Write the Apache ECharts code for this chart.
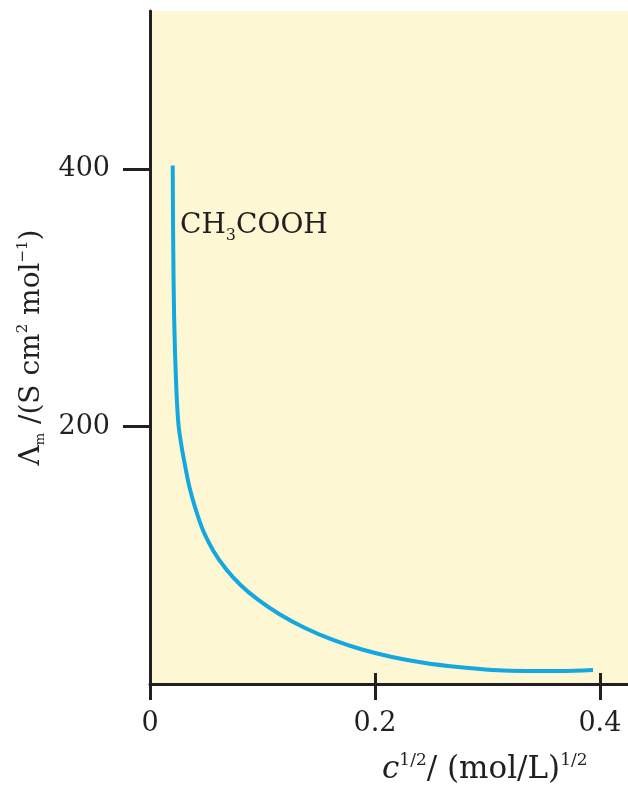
<!DOCTYPE html>
<html>
<head>
<meta charset="utf-8">
<script src="https://cdn.jsdelivr.net/npm/echarts@6/dist/echarts.min.js"></script>
<style>
  html, body { margin: 0; padding: 0; background: #ffffff; }
  #chart { width: 628px; height: 789px; }
</style>
</head>
<body>
<div id="chart"></div>
<script>
// sqrt(c) values and molar conductivity for CH3COOH
const sqrtConc = [0.0202, 0.0206, 0.0215, 0.0231, 0.0252, 0.028, 0.0311, 0.0351, 0.040, 0.0471,
  0.056, 0.0667, 0.080, 0.096, 0.1156, 0.1378, 0.1627, 0.1885, 0.2152, 0.2445,
  0.2739, 0.3041, 0.3352, 0.3645, 0.3939];
const molarCond = [403, 345, 283, 236.5, 202.7, 185, 170, 153, 137.5, 119.5,
  104, 90.3, 77.3, 65.5, 54, 43.5, 34.2, 26.8, 21, 16.3,
  13.2, 10.9, 10.1, 10.1, 10.9];
const xTicks = [0, 0.2, 0.4];
const xInnerTicks = [0.2, 0.4];
const yTicks = [200, 400];
const seriesName = 'CH3COOH';

const serif = 'DejaVu Serif';
const ink = '#231f20';
const gridTop = 11;
const gridBottom = 105;
const gridHeight = 789 - gridTop - gridBottom;

const chart = echarts.init(document.getElementById('chart'));

const axisX = {
  type: 'value',
  min: 0,
  max: 0.425,
  splitLine: { show: false }
};

const option = {
  backgroundColor: '#ffffff',
  animation: false,
  grid: {
    left: 150, right: 0, top: gridTop, bottom: gridBottom,
    show: true,
    backgroundColor: '#fdf7d3',
    borderWidth: 0
  },
  xAxis: [
    Object.assign({}, axisX, {
      position: 'bottom',
      axisLine: { show: true, onZero: false, lineStyle: { color: ink, width: 3 } },
      axisTick: { show: true, length: 16, customValues: xTicks, lineStyle: { color: ink, width: 3 } },
      axisLabel: {
        customValues: xTicks, margin: 26,
        color: ink, fontFamily: serif, fontSize: 27,
        formatter: v => String(v)
      }
    }),
    // short ticks pointing up into the plot: a top axis shifted down onto the bottom one
    Object.assign({}, axisX, {
      position: 'top',
      offset: -gridHeight,
      axisLine: { show: false, onZero: false },
      axisTick: { show: true, inside: false, length: 11, customValues: xInnerTicks, lineStyle: { color: ink, width: 3 } },
      axisLabel: { show: false }
    })
  ],
  yAxis: {
    type: 'value',
    min: 0,
    max: 523,
    interval: 200,
    axisLine: { show: true, onZero: false, lineStyle: { color: ink, width: 3 } },
    axisTick: { show: true, length: 27, customValues: yTicks, lineStyle: { color: ink, width: 3 } },
    axisLabel: {
      customValues: yTicks, margin: 40,
      color: ink, fontFamily: serif, fontSize: 27
    },
    splitLine: { show: false },
    name: '{a|Λ}{sub|m}{a| /(S cm}{sup|2}{a| mol}{sup|−1}{a|)}',
    nameLocation: 'middle',
    nameRotate: 90,
    nameGap: 100,
    nameTextStyle: {
      rich: {
        a: { fontFamily: serif, fontSize: 28, color: ink, lineHeight: 32 },
        sub: { fontFamily: serif, fontSize: 13, color: ink, lineHeight: 14, verticalAlign: 'bottom' },
        sup: { fontFamily: serif, fontSize: 15, color: ink, lineHeight: 15, verticalAlign: 'top' }
      }
    }
  },
  graphic: [
    {
      type: 'text',
      left: 180,
      top: 212,
      style: {
        text: '{a|CH}{sub|3}{a|COOH}',
        rich: {
          a: { fontFamily: serif, fontSize: 28, fill: ink, lineHeight: 36 },
          sub: { fontFamily: serif, fontSize: 16, fill: ink, lineHeight: 18, verticalAlign: 'bottom' }
        }
      }
    },
    {
      type: 'text',
      left: 382,
      top: 752,
      style: {
        text: '{i|c}{sup|1/2}{a|/ (mol/L)}{sup|1/2}',
        rich: {
          i: { fontFamily: serif, fontStyle: 'italic', fontSize: 31, fill: ink, lineHeight: 36 },
          a: { fontFamily: serif, fontSize: 31, fill: ink, lineHeight: 36 },
          sup: { fontFamily: serif, fontSize: 17, fill: ink, lineHeight: 16, verticalAlign: 'top' }
        }
      }
    }
  ],
  series: [
    {
      name: seriesName,
      type: 'line',
      xAxisIndex: 0,
      data: sqrtConc.map((x, i) => [x, molarCond[i]]),
      showSymbol: false,
      smooth: 0.35,
      lineStyle: { color: '#14a7e0', width: 4 }
    }
  ]
};

chart.setOption(option);
</script>
</body>
</html>
